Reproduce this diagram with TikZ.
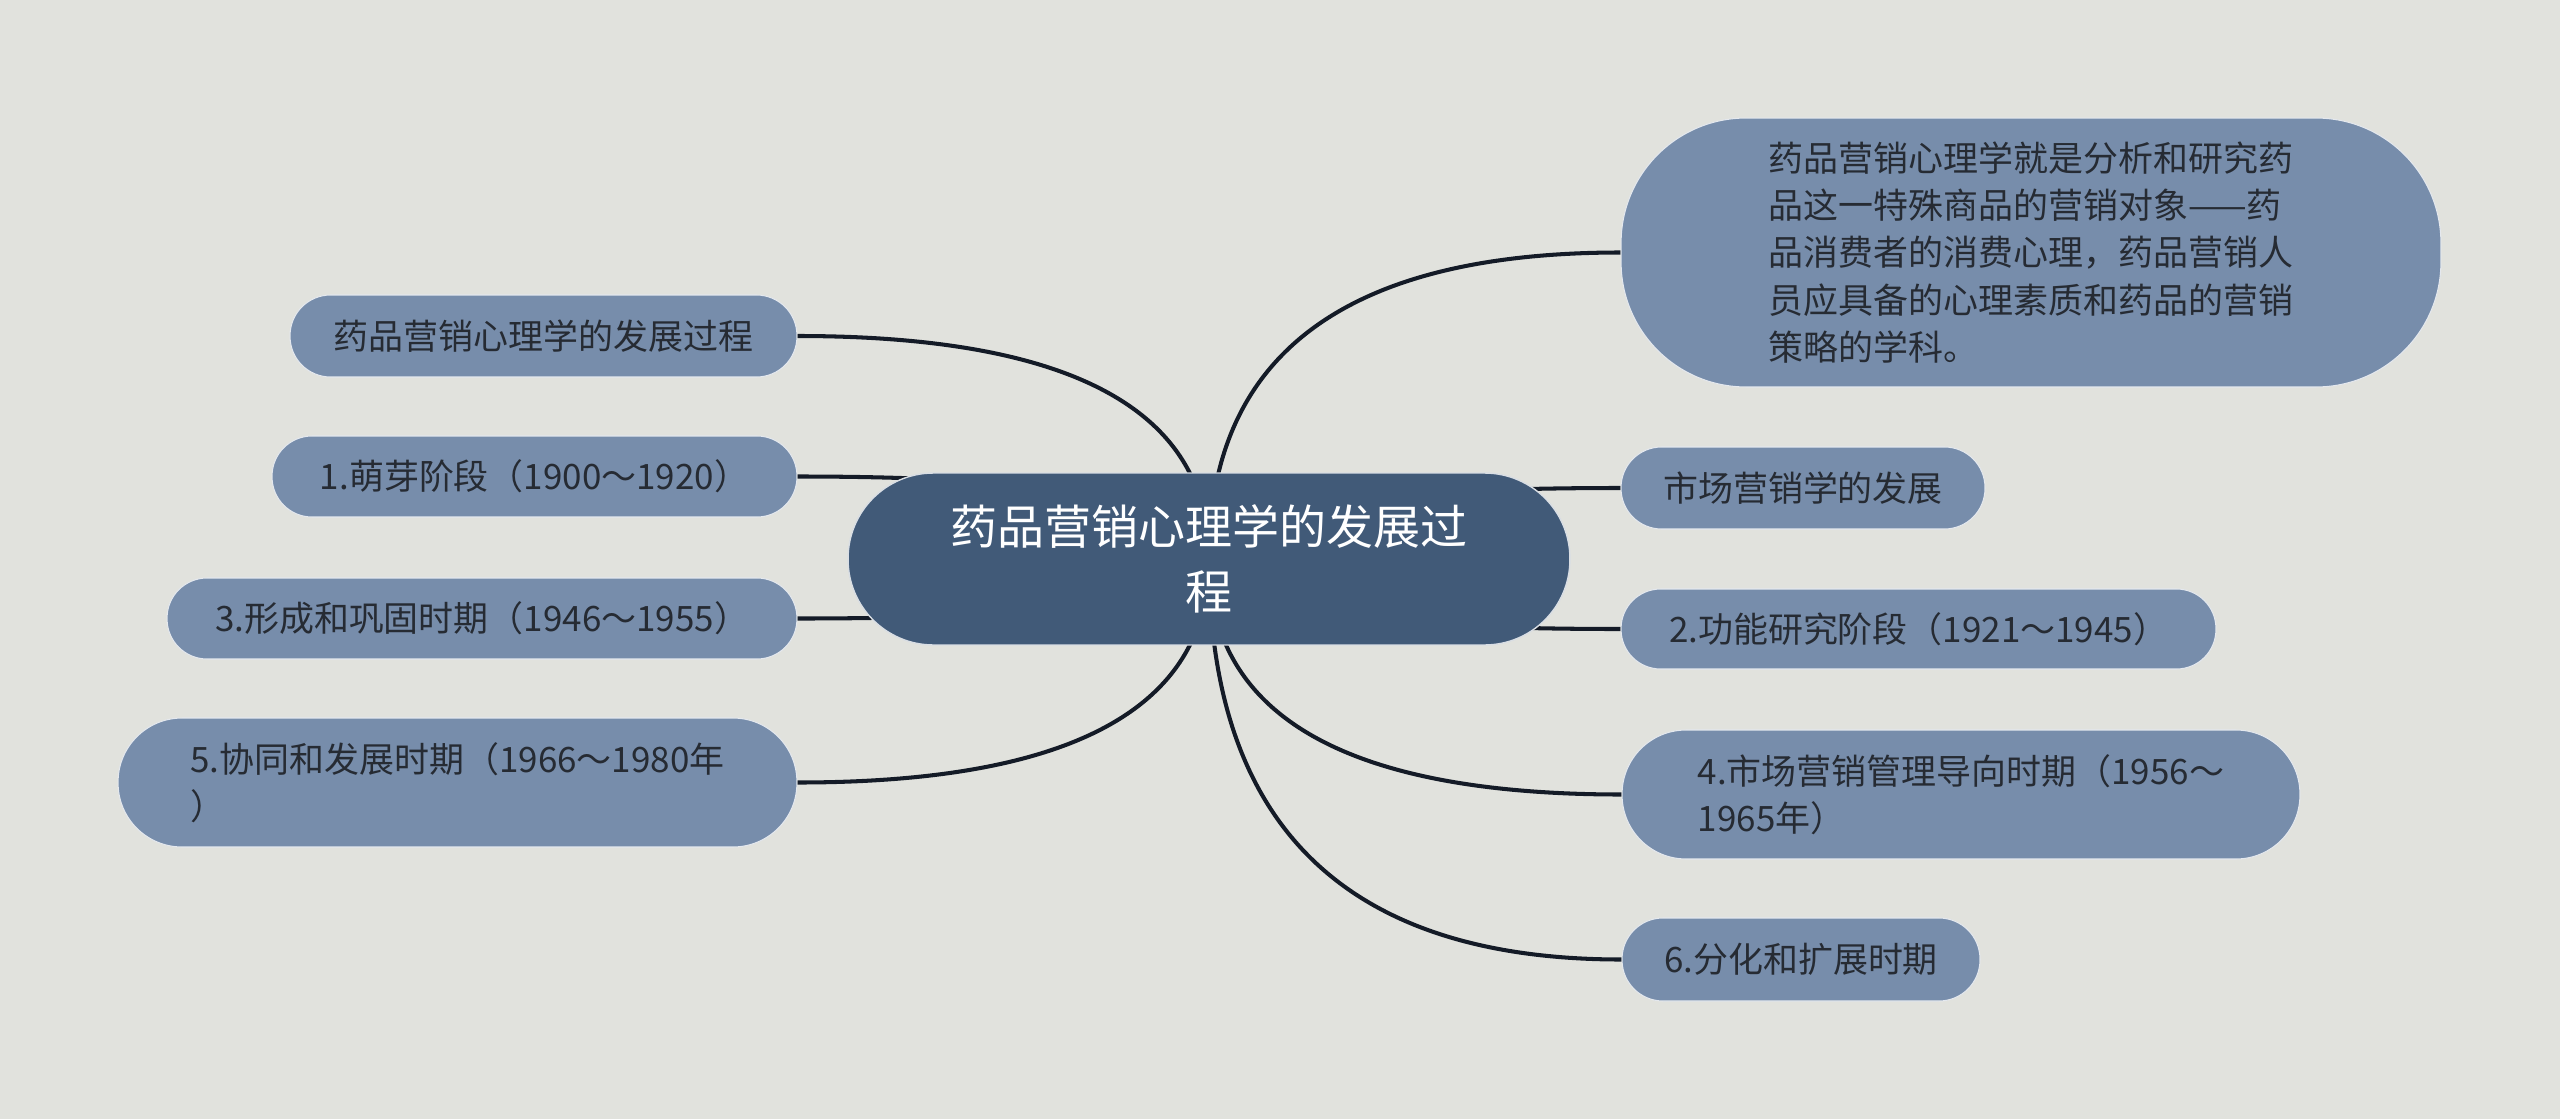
\documentclass[tikz,border=0pt]{standalone}
\usepackage{fontspec}
\newfontfamily\cjk{Noto Sans CJK SC}
\usetikzlibrary{calc}
\definecolor{bgc}{HTML}{E1E2DD}
\definecolor{leaf}{HTML}{778DAB}
\definecolor{root}{HTML}{415A78}
\definecolor{edge}{HTML}{141B27}
\definecolor{ltxt}{HTML}{262B33}
\pgfdeclarelayer{bg}
\pgfdeclarelayer{edges}
\pgfsetlayers{bg,edges,main}
\newcommand\mmlink[1]{\draw[link] (C.center) .. controls ($(C.center)!0.667!(C.center|-#1)$) and ($(#1)!0.667!(C.center|-#1)$) .. (#1);}
\begin{document}
\begin{tikzpicture}[x=0.02cm,y=-0.02cm,
  pill/.style={rectangle, rounded corners=#1, fill=leaf, draw=white!80!leaf, line width=0.6pt,
    inner sep=0pt, text=ltxt, font=\cjk\fontsize{19.9}{26.8}\selectfont, align=left},
  rootbox/.style={rectangle, rounded corners=1.71cm, fill=root, draw=white!80!root, line width=0.8pt,
    inner sep=0pt, text=white, font=\cjk\fontsize{26.75}{37}\selectfont, align=center,
    minimum width=14.44cm, minimum height=3.44cm},
  link/.style={draw=edge, line width=2.3pt}]
\useasboundingbox (0,0) rectangle (2560,1119);
\begin{pgfonlayer}{bg}
\fill[bgc] (0,0) rectangle (2560,1119);
\end{pgfonlayer}

\node[rootbox] (C) at (1209,559) {药品营销心理学的发展过\\程};

\node[pill=0.81cm, minimum width=10.14cm, minimum height=1.64cm] (L1) at (543.5,336) {药品营销心理学的发展过程};
\node[pill=0.80cm, minimum width=10.5cm, minimum height=1.62cm] (L2) at (534.5,476.5) {1.萌芽阶段（1900～1920）};
\node[pill=0.80cm, minimum width=12.6cm, minimum height=1.62cm] (L3) at (482,618.5) {3.形成和巩固时期（1946～1955）};
\node[pill=1.28cm, minimum width=13.58cm, minimum height=2.58cm] (L4) at (457.5,782.5) {5.协同和发展时期（1966～1980年\\）};

\node[pill=2.5cm, minimum width=16.4cm, minimum height=5.38cm] (R1) at (2031,252.5) {药品营销心理学就是分析和研究药\\品这一特殊商品的营销对象——药\\品消费者的消费心理，药品营销人\\员应具备的心理素质和药品的营销\\策略的学科。};
\node[pill=0.81cm, minimum width=7.28cm, minimum height=1.64cm] (R2) at (1803,488) {市场营销学的发展};
\node[pill=0.79cm, minimum width=11.9cm, minimum height=1.60cm] (R3) at (1918.5,629) {2.功能研究阶段（1921～1945）};
\node[pill=1.28cm, minimum width=13.56cm, minimum height=2.58cm] (R4) at (1961,794.5) {4.市场营销管理导向时期（1956～\\1965年）};
\node[pill=0.82cm, minimum width=7.16cm, minimum height=1.66cm] (R5) at (1801,959.5) {6.分化和扩展时期};

\begin{pgfonlayer}{edges}
\mmlink{L1.east}
\mmlink{L2.east}
\mmlink{L3.east}
\mmlink{L4.east}
\mmlink{R1.west}
\mmlink{R2.west}
\mmlink{R3.west}
\mmlink{R4.west}
\mmlink{R5.west}
\end{pgfonlayer}
\end{tikzpicture}
\end{document}
